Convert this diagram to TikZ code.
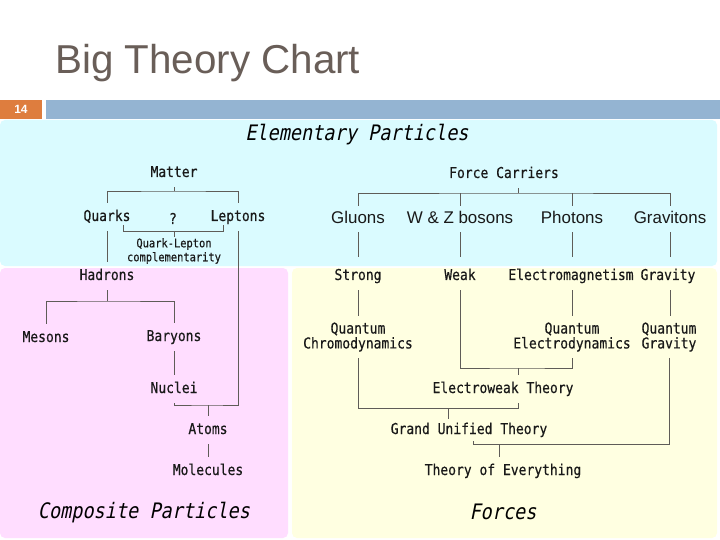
\documentclass[tikz,border=0pt]{standalone}
\usepackage{fontspec}
\setmainfont{Liberation Sans}
\newfontfamily\gothic{DejaVu Sans Mono}[FakeStretch=0.87,FakeBold=0.4]
\newfontfamily\gothicit{DejaVu Sans Mono}[FakeStretch=0.87,FakeSlant=0.2]
\usetikzlibrary{positioning}
\definecolor{slate}{RGB}{105,94,88}
\definecolor{rust}{RGB}{222,125,62}
\definecolor{steel}{RGB}{148,180,210}
\definecolor{iceblue}{RGB}{218,251,255}
\definecolor{lilac}{RGB}{255,221,255}
\definecolor{cream}{RGB}{255,255,225}
\definecolor{wire}{RGB}{95,92,88}
\definecolor{ink}{RGB}{25,25,25}
\tikzset{
  lbl/.style={font=\gothic\fontsize{15}{15}\selectfont,text=ink,inner xsep=2bp,
    inner ysep=6.5bp,text height=11.5bp,text depth=3.5bp},
  lbl2/.style={font=\gothic\fontsize{15}{15}\selectfont,text=ink,align=center,
    inner xsep=2bp,inner ysep=6bp},
  carrier/.style={font=\fontsize{17}{20}\selectfont,text=ink,inner ysep=5bp,
    text height=12.5bp,text depth=3.5bp},
  heading/.style={font=\gothicit\fontsize{21.4}{24}\selectfont,text=black},
  zone/.style={fill=#1,rounded corners=5bp},
  link/.style={draw=wire,line width=0.9bp},
}

\begin{document}
\begin{tikzpicture}[x=1bp,y=-1bp]
  \fill[white] (0,0) rectangle (720,540);
  \useasboundingbox (0,0) rectangle (720,540);
  % slide header
  \node[font=\fontsize{40.5}{45}\selectfont,text=slate,anchor=west,inner sep=0] (title) at (55,63) {Big Theory Chart};
  \node[fill=rust,minimum width=42bp,minimum height=19bp,inner sep=0,
    font=\bfseries\fontsize{12}{14}\selectfont,text=white] (num) at (21,109.5) {14};
  \node[fill=steel,minimum width=674bp,minimum height=19bp,inner sep=0,anchor=west] (bar) at (46,109.5) {};
  % regions
  \fill[zone=iceblue] (0,120) rectangle (717,266);
  \fill[zone=lilac] (0,268) rectangle (288,538);
  \fill[zone=cream] (292,268) rectangle (717,538);
  \node[heading] (elem) at (357,135) {Elementary Particles};
  \node[heading] (comp) at (144,513) {Composite Particles};
  \node[heading] (forces) at (503,512) {Forces};

  % matter side
  \node[lbl] (matter) at (174,173) {Matter};
  \node[lbl] (quarks) at (107,217) {Quarks};
  \node[lbl] (leptons) at (238,217) {Leptons};
  \node[lbl] (qmark) at (173,220) {?};
  \node[lbl2,font=\gothic\fontsize{12}{14}\selectfont,inner ysep=1bp] (qlc) at (174,251) {Quark-Lepton\\complementarity};
  \node[lbl] (hadrons) at (107,276) {Hadrons};
  \node[lbl] (mesons) at (46,338) {Mesons};
  \node[lbl] (baryons) at (174,337) {Baryons};
  \node[lbl] (nuclei) at (174,389) {Nuclei};
  \node[lbl] (atoms) at (208,430) {Atoms};
  \node[lbl] (molecules) at (208,471) {Molecules};

  \coordinate (mfork) at (174,191);
  \coordinate (brL) at (123,231);
  \coordinate (brR) at (223,231);
  \coordinate (hfork) at (107,301);
  \coordinate (afork) at (208,405);
  \draw[link] (matter.south) -- (mfork);
  \draw[link] (quarks.north) |- (mfork) -| (leptons.north);
  \draw[link] ([yshift=6bp]brL) -- (brL) -- (brR) -- ([yshift=6bp]brR);
  \draw[link] (qlc.north |- brL) -- (qlc.north);
  \draw[link] (quarks.south) -- (hadrons.north);
  \draw[link] (hadrons.south) -- (hfork);
  \draw[link] (mesons.north) |- (hfork) -| (baryons.north);
  \draw[link] (baryons.south) -- (nuclei.north);
  \draw[link] (leptons.south) |- (afork) -| (nuclei.south);
  \draw[link] (afork) -- (atoms.north);
  \draw[link] (atoms.south) -- (molecules.north);

  % force side
  \node[lbl] (fc) at (504,174) {Force Carriers};
  \foreach \nm/\x/\txt in {gluons/358/Gluons,wz/460/W \& Z bosons,photons/572/Photons,gravitons/670/Gravitons}
    \node[carrier] (\nm) at (\x,219) {\txt};
  \foreach \nm/\x/\txt in {strong/358/Strong,weak/460/Weak,em/571/Electromagnetism,gravity/668/Gravity}
    \node[lbl] (\nm) at (\x,276) {\txt};
  \node[lbl2] (qcd) at (358,337) {Quantum\\Chromodynamics};
  \node[lbl2] (qed) at (572,337) {Quantum\\Electrodynamics};
  \node[lbl2] (qg) at (669,337) {Quantum\\Gravity};
  \node[lbl] (ew) at (503,389) {Electroweak Theory};
  \node[lbl,inner ysep=3bp] (gut) at (469,430) {Grand Unified Theory};
  \node[lbl] (toe) at (503,471) {Theory of Everything};

  \coordinate (cfork) at (518,193);
  \coordinate (ewfork) at (518,368);
  \coordinate (gfork) at (448,408);
  \coordinate (gtj) at (473,444);
  \coordinate (tfork) at (499,444);
  \draw[link] (fc.south -| cfork) -- (cfork);
  \draw[link] (gluons.north) |- (cfork) -| (gravitons.north);
  \foreach \a in {wz,photons}
    \draw[link] (\a.north) -- (\a.north |- cfork);
  \foreach \a/\b in {gluons/strong,wz/weak,photons/em,gravitons/gravity}
    \draw[link,shorten >=5bp] (\a.south) -- (\a.south |- \b.north);
  \foreach \a/\b in {strong/qcd,photons/qed,gravitons/qg}
    \draw[link] (\a.south |- em.south) -- (\a.south |- \b.north);
  \draw[link] (weak.south) |- (ewfork) -| (qed.south);
  \draw[link] (ewfork) -- (ew.north -| ewfork);
  \draw[link] (ew.south -| ewfork) -- (ewfork |- gfork) -| (qcd.south);
  \draw[link] (gfork) -- (gut.north -| gfork);
  \draw[link] (qg.south) |- (gtj) -- (gut.south -| gtj);
  \draw[link] (tfork) -- (toe.north -| tfork);
\end{tikzpicture}
\end{document}
